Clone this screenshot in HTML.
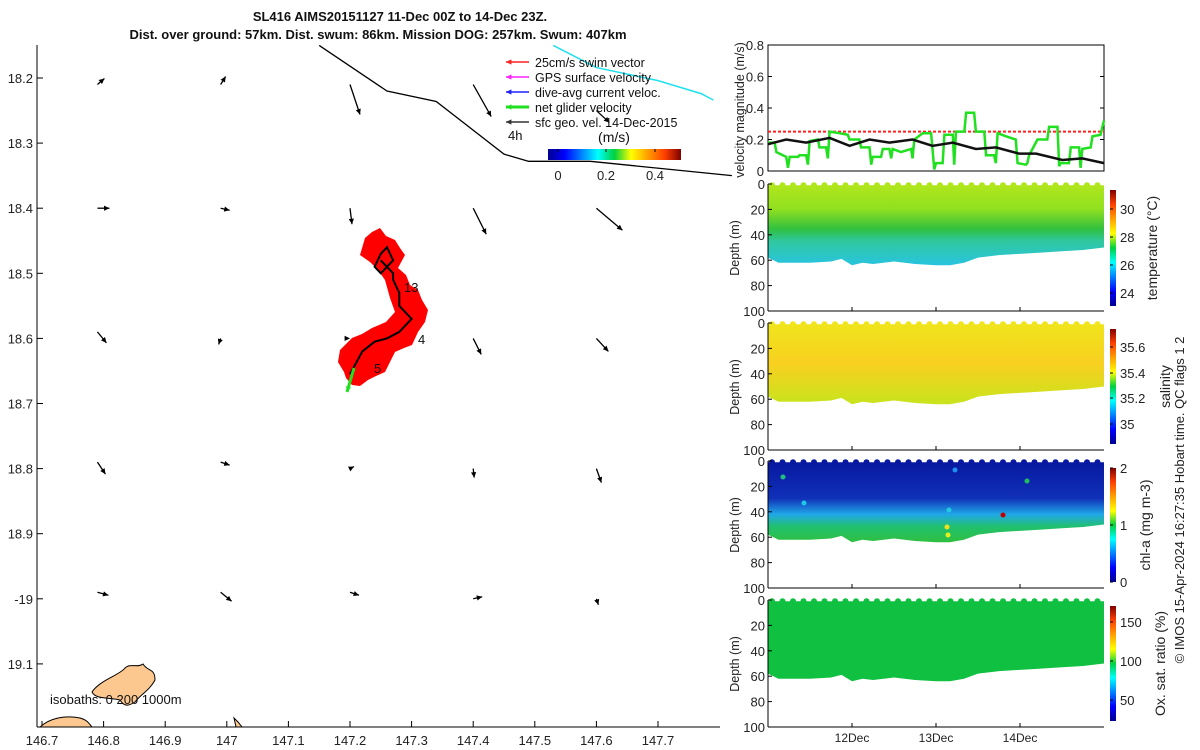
<!DOCTYPE html>
<html><head><meta charset="utf-8"><style>
body{margin:0;background:#fff;}
svg{display:block;font-family:"Liberation Sans","DejaVu Sans",sans-serif;}
</style></head><body>
<svg id="c" width="1200" height="750" viewBox="0 0 1200 750">
<defs>
<linearGradient id="jetH" x1="0" x2="1" y1="0" y2="0">
<stop offset="0" stop-color="#00008f"/><stop offset="0.125" stop-color="#0000ff"/><stop offset="0.375" stop-color="#00ffff"/><stop offset="0.5" stop-color="#00d040"/><stop offset="0.625" stop-color="#ffff00"/><stop offset="0.875" stop-color="#ff4000"/><stop offset="1" stop-color="#800000"/></linearGradient>
<linearGradient id="jetV" x1="0" x2="0" y1="1" y2="0">
<stop offset="0" stop-color="#00008f"/><stop offset="0.125" stop-color="#0000ff"/><stop offset="0.375" stop-color="#00ffff"/><stop offset="0.5" stop-color="#00d040"/><stop offset="0.625" stop-color="#ffff00"/><stop offset="0.875" stop-color="#ff4000"/><stop offset="1" stop-color="#800000"/></linearGradient>
<linearGradient id="gTemp" x1="0" x2="0" y1="0" y2="1"><stop offset="0" stop-color="#b0e61c"/><stop offset="0.3" stop-color="#90e020"/><stop offset="0.55" stop-color="#30c040"/><stop offset="0.7" stop-color="#30c8a0"/><stop offset="1" stop-color="#28c4e0"/></linearGradient>
<linearGradient id="gSal" x1="0" x2="0" y1="0" y2="1"><stop offset="0" stop-color="#f0e41c"/><stop offset="0.5" stop-color="#f8d020"/><stop offset="1" stop-color="#c8e41c"/></linearGradient>
<linearGradient id="gChl" x1="0" x2="0" y1="0" y2="1"><stop offset="0" stop-color="#0818a0"/><stop offset="0.45" stop-color="#1030b8"/><stop offset="0.65" stop-color="#20a8e8"/><stop offset="0.8" stop-color="#20c070"/><stop offset="1" stop-color="#30c040"/></linearGradient>
</defs>
<g id="map"></g>
<g id="right"></g>
</svg>
<script>
const NS="http://www.w3.org/2000/svg";
const svg=document.getElementById('c');
function el(tag,attrs,parent,txt){const e=document.createElementNS(NS,tag);for(const k in attrs)e.setAttribute(k,attrs[k]);if(txt!==undefined)e.textContent=txt;(parent||svg).appendChild(e);return e;}

// ---------- DATA ----------
const lonTicks=[146.7,146.8,146.9,147,147.1,147.2,147.3,147.4,147.5,147.6,147.7];
const lonLabels=["146.7","146.8","146.9","147","147.1","147.2","147.3","147.4","147.5","147.6","147.7"];
const latTicks=[18.2,18.3,18.4,18.5,18.6,18.7,18.8,18.9,19,19.1];
const latLabels=["18.2","18.3","18.4","18.5","18.6","18.7","18.8","18.9","-19","19.1"];
const vecLon=[146.79,146.99,147.2,147.4,147.6, 146.79,146.99,147.2,147.4,147.6, 146.79,146.99,147.2,147.4,147.6, 146.79,146.99,147.2,147.4,147.6, 146.79,146.99,147.2,147.4,147.6];
const vecLat=[18.21,18.21,18.21,18.21,18.25, 18.4,18.4,18.4,18.4,18.4, 18.59,18.6,18.6,18.6,18.6, 18.79,18.79,18.8,18.8,18.8, 18.99,18.99,18.99,19,19];
const vecU=[7,5,10,18,13, 12,9,2,13,26, 9,-2,0,8,12, 8,9,4,1,5, 11,11,9,9,2];
const vecV=[-6,-8,30,32,12, 0,2,16,26,22, 11,6,0,16,13, 12,3,-2,9,14, 3,9,3,-2,6];
const coastLon=[147.15,147.26,147.34,147.45,147.49,147.59,147.82];
const coastLat=[18.15,18.22,18.236,18.317,18.328,18.328,18.35];
const cyanLon=[147.53,147.6,147.7,147.77,147.79];
const cyanLat=[18.15,18.184,18.204,18.224,18.234];
const trackLon=[147.2,147.22,147.24,147.26,147.28,147.29,147.3,147.28,147.28,147.27,147.27,147.26,147.25,147.24,147.25,147.26,147.27,147.26,147.25];
const trackLat=[18.655,18.62,18.605,18.6,18.59,18.58,18.57,18.55,18.53,18.51,18.5,18.49,18.5,18.49,18.47,18.46,18.48,18.49,18.48];
const netT=[0,1.9,2.4,5.2,5.7,6.2,8.6,9,10.9,11.4,11.9,14.3,14.7,16.6,17.1,17.6,20.4,22.8,23.3,26.1,26.6,29,29.5,29.9,32.3,32.8,34.7,35.2,35.6,38,40.9,41.3,41.8,44.2,46.6,47,47.5,48,49.9,50.4,52.8,53.2,53.7,56.1,56.6,58.9,59.4,61.8,62.3,64.6,65.1,65.6,68,70.8,71.3,73.7,74.1,74.6,77,79.8,80.3,82.7,83.2,83.6,86,86.5,88.9,89.3,89.8,92.2,92.7,95,96];
const netV=[0.18,0.18,0.12,0.09,0.02,0.09,0.09,0.1,0.1,0.04,0.19,0.2,0.15,0.15,0.08,0.25,0.24,0.23,0.2,0.2,0.15,0.15,0.04,0.09,0.09,0.14,0.14,0.08,0.14,0.12,0.14,0.08,0.2,0.24,0.24,0.14,0.01,0.05,0.05,0.23,0.23,0.04,0.25,0.25,0.37,0.37,0.25,0.25,0.1,0.1,0.05,0.24,0.22,0.2,0.05,0.04,0.05,0.1,0.2,0.2,0.28,0.28,0.03,0.05,0.05,0.15,0.15,0.02,0.14,0.15,0.22,0.23,0.32];
const geoT=[0,5.2,10.9,17.6,23.3,29,34.7,41.3,47,52.8,59.4,65.1,71.8,76.6,84.1,89.8,96];
const geoV=[0.17,0.2,0.18,0.21,0.16,0.2,0.18,0.2,0.16,0.18,0.14,0.15,0.11,0.11,0.07,0.08,0.05];
const swimV=0.25;
const velTicks=[0,0.2,0.4,0.6,0.8];
const bottomT=[0,3,6,12,18,21,24,27,30,36,42,48,52,56,60,66,72,78,84,90,96];
const bottomD=[58,62,62,62,61,59,64,62,63,61,63,64,64,62,58,56,55,54,53,52,50];
const depthTicks=[0,20,40,60,80,100];
const dayTicks=[24,48,72];
const dayLabels=["12Dec","13Dec","14Dec"];

// ---------- MAP ----------
const map=document.getElementById('map');
const X=lon=>42+(lon-146.7)*616;
const Y=lat=>78+(lat-18.2)*651;
let a=el('line',{x1:37,y1:45,x2:37,y2:727,stroke:'#000'},map);
a=el('line',{x1:37,y1:727,x2:720,y2:727,stroke:'#000'},map);
lonTicks.forEach((v,i)=>{const x=X(v);el('line',{x1:x,y1:727,x2:x,y2:721,stroke:'#000'},map);
 const t=el('text',{x:x,y:745,'text-anchor':'middle','font-size':13,fill:'#222'},map,lonLabels[i]);
 });
latTicks.forEach((v,i)=>{const y=Y(v);el('line',{x1:37,y1:y,x2:43,y2:y,stroke:'#000'},map);
 const t=el('text',{x:33,y:y+5,'text-anchor':'end','font-size':13,fill:'#222'},map,latLabels[i]);
 });
a=el('path',{d:'M92,692 C100,680 120,675 125,668 C130,663 138,668 143,664 C148,672 155,668 155,680 C150,690 140,695 135,702 C130,705 125,708 120,700 C110,697 96,700 92,692Z',fill:'#fdc890',stroke:'#000','stroke-width':1},map);

a=el('path',{d:'M40,727 C50,718 65,715 80,718 C88,720 90,725 92,727Z',fill:'#fdc890',stroke:'#000'},map);

a=el('path',{d:'M234,718 L238,722 L242,727 L236,727Z',fill:'#fdc890',stroke:'#000'},map);

const iso=el('text',{x:50,y:704,'font-size':13,fill:'#111'},map,'isobaths: 0   200  1000m');

const cp=coastLon.map((v,i)=>X(v)+','+Y(coastLat[i])).join(' ');
a=el('polyline',{points:cp,fill:'none',stroke:'#000','stroke-width':1.3},map);
const cy=cyanLon.map((v,i)=>X(v)+','+Y(cyanLat[i])).join(' ');
a=el('polyline',{points:cy,fill:'none',stroke:'#20e0f0','stroke-width':1.5},map);
function arrow(x1,y1,x2,y2,col,w,parent){const g=el('g',{},parent);
 el('line',{x1,y1,x2,y2,stroke:col,'stroke-width':w},g);
 const ang=Math.atan2(y2-y1,x2-x1),h=6;
 el('polygon',{points:`${x2},${y2} ${x2-h*Math.cos(ang-0.45)},${y2-h*Math.sin(ang-0.45)} ${x2-h*Math.cos(ang+0.45)},${y2-h*Math.sin(ang+0.45)}`,fill:col},g);return g;}
vecLon.forEach((v,i)=>{const x=X(v),y=Y(vecLat[i]);
 const g=arrow(x,y,x+vecU[i],y+vecV[i],'#000',1.3,map);
 });
a=el('path',{d:'M365,238 L372,232 L380,228 L386,236 L395,240 L400,248 L405,255 L398,268 L406,275 L410,285 L418,290 L422,300 L428,310 L425,322 L418,332 L412,345 L404,348 L395,352 L390,362 L385,372 L376,376 L368,380 L360,386 L352,385 L346,378 L344,372 L338,362 L340,350 L346,344 L352,338 L362,334 L372,328 L386,322 L395,312 L390,298 L385,280 L378,270 L370,262 L360,255Z',fill:'#ff0000'},map);

const tp=trackLon.map((v,i)=>X(v)+','+Y(trackLat[i])).join(' ');
a=el('polyline',{points:tp,fill:'none',stroke:'#000','stroke-width':2},map);
a=arrow(354,368,347,392,'#20e020',3,map);
[['13',404,292],['4',418,344],['5',374,373]].forEach(l=>{const t=el('text',{x:l[1],y:l[2],'font-size':13,fill:'#111'},map,l[0]);});
const tt=el('text',{x:400,y:21,'text-anchor':'middle','font-size':13,'font-weight':'bold',fill:'#111'},map,'SL416 AIMS20151127 11-Dec 00Z to 14-Dec 23Z.');

const t2=el('text',{x:378,y:39,'text-anchor':'middle','font-size':13,'font-weight':'bold',fill:'#111'},map,'Dist. over ground: 57km. Dist. swum: 86km. Mission DOG: 257km. Swum: 407km');

const leg=el('g',{},map);
[['#ff2020','25cm/s swim vector',1.5],['#ff20ff','GPS surface velocity',1.5],['#2020ff','dive-avg current veloc.',1.5],['#20e020','net glider velocity',3],['#333','sfc geo. vel. 14-Dec-2015',1.5]].forEach((r,i)=>{
 const y=62+i*15;const g=arrow(529,y,506,y,r[0],r[2],leg);
 const t=el('text',{x:535,y:y+5,'font-size':12.5,fill:'#111'},leg,r[1]);});
let tl=el('text',{x:508,y:140,'font-size':13,fill:'#111'},map,'4h');
tl=el('text',{x:614,y:142,'text-anchor':'middle','font-size':14,fill:'#111'},map,'(m/s)');
a=el('rect',{x:548,y:149,width:133,height:11,fill:'url(#jetH)'},map);
[[558,'0'],[606,'0.2'],[655,'0.4']].forEach(c=>{el('line',{x1:c[0],y1:149,x2:c[0],y2:152,stroke:'#000'},map);
 const t=el('text',{x:c[0],y:180,'text-anchor':'middle','font-size':13,fill:'#222'},map,c[1]);});

// ---------- RIGHT PANELS ----------
const R=document.getElementById('right');
const L=768,RR=1104;
const TX=h=>L+h*(RR-L)/96;
const VY=v=>171-v*157.5;
a=el('rect',{x:L,y:45,width:RR-L,height:126,fill:'none',stroke:'#000'},R);
velTicks.forEach(v=>{const y=VY(v);el('line',{x1:L,y1:y,x2:L+4,y2:y,stroke:'#000'},R);el('line',{x1:RR,y1:y,x2:RR-4,y2:y,stroke:'#000'},R);
 const t=el('text',{x:L-4,y:y+5,'text-anchor':'end','font-size':13,fill:'#222'},R,String(v));});
a=el('line',{x1:L,y1:VY(swimV),x2:RR,y2:VY(swimV),stroke:'#ff2020','stroke-width':2,'stroke-dasharray':'3 2'},R);
a=el('polyline',{points:netT.map((t,i)=>TX(t)+','+VY(netV[i])).join(' '),fill:'none',stroke:'#20e020','stroke-width':2.5},R);
a=el('polyline',{points:geoT.map((t,i)=>TX(t)+','+VY(geoV[i])).join(' '),fill:'none',stroke:'#111','stroke-width':2.5},R);
a=el('text',{x:0,y:0,'font-size':12.5,fill:'#222','text-anchor':'middle',transform:'translate(744,110) rotate(-90)'},R,'velocity magnitude (m/s)');

const panels=[
 {top:184,fill:'url(#gTemp)',name:'temperature',label:'temperature (°C)',lx:1152,cb:[190,306],ticks:[[209,'30'],[237,'28'],[265,'26'],[293,'24']]},
 {top:323,fill:'url(#gSal)',name:'salinity',label:'salinity',lx:1165,cb:[329,444],ticks:[[347,'35.6'],[373,'35.4'],[398,'35.2'],[424,'35']]},
 {top:461,fill:'url(#gChl)',name:'chl-a',label:'chl-a (mg m-3)',lx:1145,cb:[468,582],ticks:[[468,'2'],[525,'1'],[582,'0']]},
 {top:600,fill:'#10c040',name:'oxygen',label:'Ox. sat. ratio (%)',lx:1160,cb:[606,721],ticks:[[622,'150'],[661,'100'],[700,'50']]}
];
panels.forEach((p,pi)=>{
 const DY=d=>p.top+d*1.27;
 const g=el('g',{},R);
 let pts=L+','+DY(1)+' '+RR+','+DY(1)+' '+bottomT.slice().reverse().map((t,i)=>TX(t)+','+DY(bottomD[bottomD.length-1-i])).join(' ');
 a=el('polygon',{points:pts,fill:p.fill},g);
 for(let x=L+4;x<RR;x+=10.5){el('circle',{cx:x,cy:DY(1),r:3,fill:pi==2?'#0818a0':(pi==1?'#f0e41c':(pi==0?'#b0e61c':'#10c040'))},g);}
 el('line',{x1:L,y1:p.top,x2:L,y2:DY(100),stroke:'#000'},g);
 el('line',{x1:L,y1:DY(100),x2:RR,y2:DY(100),stroke:'#000'},g);
 depthTicks.forEach(d=>{const y=DY(d);el('line',{x1:L,y1:y,x2:L+4,y2:y,stroke:'#000'},g);
  const t=el('text',{x:L-3,y:y+5,'text-anchor':'end','font-size':13,fill:'#222'},g,String(d));});
 dayTicks.forEach(h=>{el('line',{x1:TX(h),y1:DY(100),x2:TX(h),y2:DY(100)-4,stroke:'#000'},g);});
 a=el('text',{x:0,y:0,'font-size':12.5,fill:'#222','text-anchor':'middle',transform:`translate(739,${p.top+64}) rotate(-90)`},g,'Depth (m)');
 a=el('rect',{x:1110,y:p.cb[0],width:6,height:p.cb[1]-p.cb[0],fill:'url(#jetV)'},g);
 p.ticks.forEach(tk=>{el('line',{x1:1110,y1:tk[0],x2:1113,y2:tk[0],stroke:'#000'},g);
  const t=el('text',{x:1120,y:tk[0]+5,'font-size':13,fill:'#222'},g,tk[1]);});
 a=el('text',{x:0,y:0,'font-size':14,fill:'#222','text-anchor':'middle',transform:`translate(${p.lx+5},${(p.cb[0]+p.cb[1])/2}) rotate(-90)`},g,p.label);
});
[[783,477,'#20c080'],[804,503,'#20c8e8'],[949,510,'#20c8e0'],[947,527,'#f0e020'],[948,535,'#e0f020'],[1003,515,'#c00000'],[1027,481,'#20c060'],[955,470,'#2090f0']].forEach(d=>{el('circle',{cx:d[0],cy:d[1],r:2.5,fill:d[2]},R);});
dayTicks.forEach((h,i)=>{const t=el('text',{x:TX(h),y:742,'text-anchor':'middle','font-size':12,fill:'#222'},R,dayLabels[i]);});
a=el('text',{x:0,y:0,'font-size':13,fill:'#222','text-anchor':'middle',transform:'translate(1184,500) rotate(-90)'},R,'© IMOS 15-Apr-2024 16:27:35 Hobart time. QC flags 1  2');
</script>
</body></html>
